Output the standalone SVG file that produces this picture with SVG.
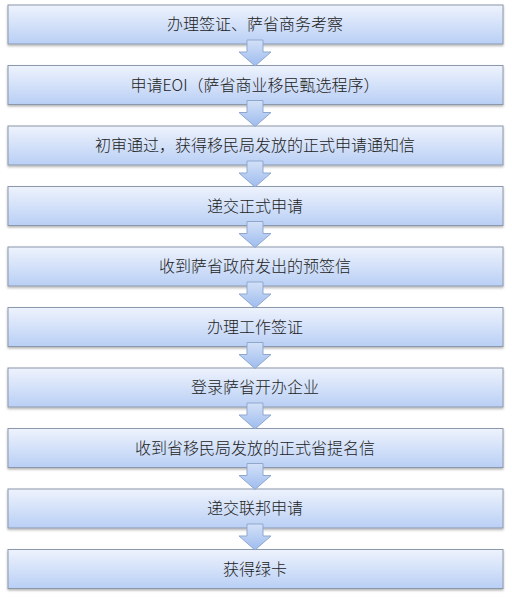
<svg xmlns="http://www.w3.org/2000/svg" width="512" height="599" viewBox="0 0 512 599">
<defs>
<linearGradient id="boxg" x1="0" y1="0" x2="0" y2="1">
<stop offset="0" stop-color="#eef3fd"/>
<stop offset="1" stop-color="#b9cff5"/>
</linearGradient>
<linearGradient id="arrg" x1="0" y1="0" x2="0" y2="1">
<stop offset="0" stop-color="#d3e1f8"/>
<stop offset="1" stop-color="#9ebcee"/>
</linearGradient>
<filter id="sh" x="-5%" y="-20%" width="110%" height="150%">
<feDropShadow dx="0" dy="1.5" stdDeviation="1" flood-color="#000" flood-opacity="0.3"/>
</filter>
</defs>
<style>
.box{fill:url(#boxg);stroke:#8c98ab;stroke-width:1;filter:url(#sh)}
.lbl{font-family:"Noto Sans CJK SC","Liberation Sans",sans-serif;font-size:16px;font-weight:300;fill:#222;text-anchor:middle}
.arr path{fill:url(#arrg);stroke:#8fa7cf;stroke-width:1}
</style>
<rect width="512" height="599" fill="#fff"/>
<g id="n1"><rect class="box" x="8" y="5" width="495" height="39"/><text class="lbl" x="255" y="30">办理签证、萨省商务考察</text></g>
<g id="n2"><rect class="box" x="8" y="65.5" width="495" height="39"/><text class="lbl" x="255" y="90.5">申请EOI（萨省商业移民甄选程序）</text></g>
<g id="n3"><rect class="box" x="8" y="126" width="495" height="39"/><text class="lbl" x="255" y="151">初审通过，获得移民局发放的正式申请通知信</text></g>
<g id="n4"><rect class="box" x="8" y="186.5" width="495" height="39"/><text class="lbl" x="255" y="211.5">递交正式申请</text></g>
<g id="n5"><rect class="box" x="8" y="247" width="495" height="39"/><text class="lbl" x="255" y="272">收到萨省政府发出的预签信</text></g>
<g id="n6"><rect class="box" x="8" y="307.5" width="495" height="39"/><text class="lbl" x="255" y="332.5">办理工作签证</text></g>
<g id="n7"><rect class="box" x="8" y="368" width="495" height="39"/><text class="lbl" x="255" y="393">登录萨省开办企业</text></g>
<g id="n8"><rect class="box" x="8" y="428.5" width="495" height="39"/><text class="lbl" x="255" y="453.5">收到省移民局发放的正式省提名信</text></g>
<g id="n9"><rect class="box" x="8" y="489" width="495" height="39"/><text class="lbl" x="255" y="514">递交联邦申请</text></g>
<g id="n10"><rect class="box" x="8" y="549.5" width="495" height="39"/><text class="lbl" x="255" y="574.5">获得绿卡</text></g>
<g id="connectors" class="arr">
<path transform="translate(0,44)" d="M247,-4 H263 V8 H271 L255,22 L239,8 H247 Z"/>
<path transform="translate(0,104.5)" d="M247,-4 H263 V8 H271 L255,22 L239,8 H247 Z"/>
<path transform="translate(0,165)" d="M247,-4 H263 V8 H271 L255,22 L239,8 H247 Z"/>
<path transform="translate(0,225.5)" d="M247,-4 H263 V8 H271 L255,22 L239,8 H247 Z"/>
<path transform="translate(0,286)" d="M247,-4 H263 V8 H271 L255,22 L239,8 H247 Z"/>
<path transform="translate(0,346.5)" d="M247,-4 H263 V8 H271 L255,22 L239,8 H247 Z"/>
<path transform="translate(0,407)" d="M247,-4 H263 V8 H271 L255,22 L239,8 H247 Z"/>
<path transform="translate(0,467.5)" d="M247,-4 H263 V8 H271 L255,22 L239,8 H247 Z"/>
<path transform="translate(0,528)" d="M247,-4 H263 V8 H271 L255,22 L239,8 H247 Z"/>
</g>
</svg>
